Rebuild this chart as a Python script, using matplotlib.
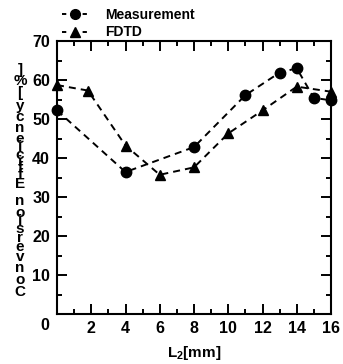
import matplotlib
matplotlib.use('Agg')
import matplotlib.pyplot as plt
from matplotlib.lines import Line2D
from matplotlib.ticker import MultipleLocator, FuncFormatter
from matplotlib.font_manager import FontProperties

plt.rcParams['font.family'] = ['Liberation Sans', 'DejaVu Sans']
plt.rcParams['font.weight'] = 'bold'
plt.rcParams['axes.labelweight'] = 'bold'
plt.rcParams['mathtext.fontset'] = 'custom'
plt.rcParams['mathtext.bf'] = 'Liberation Sans:bold'
plt.rcParams['mathtext.rm'] = 'Liberation Sans:bold'

# data
meas_x = [0, 4, 8, 11, 13, 14, 15, 16]
meas_y = [52.2, 36.4, 42.8, 56.1, 61.9, 63.0, 55.4, 54.8]
fdtd_x = [0, 1.8, 4, 6, 8, 10, 12, 14, 16]
fdtd_y = [58.7, 57.3, 43.2, 35.7, 37.6, 46.3, 52.2, 58.3, 57.0]
labels = ['Measurement', 'FDTD']
ylabel = 'Conversion Efficiency [%]'

W, H = 343, 364
fig = plt.figure(figsize=(W / 100, H / 100), dpi=100)
ax = fig.add_axes([57 / W, 50 / H, 274 / W, 273 / H])

ax.plot(meas_x, meas_y, color='k', ls='--', dashes=(3.6, 2.6), lw=1.4,
        marker='o', ms=7.5, clip_on=False)
ax.plot(fdtd_x, fdtd_y, color='k', ls='--', dashes=(3.6, 2.6), lw=1.4,
        marker='^', ms=7.5, clip_on=False)

ax.set_xlim(0, 16)
ax.set_ylim(0, 70)
ax.xaxis.set_major_locator(MultipleLocator(2))
ax.xaxis.set_minor_locator(MultipleLocator(1))
ax.yaxis.set_major_locator(MultipleLocator(10))
ax.yaxis.set_minor_locator(MultipleLocator(5))
nozero = FuncFormatter(lambda v, p: '' if v == 0 else '%d' % v)
ax.xaxis.set_major_formatter(nozero)
ax.yaxis.set_major_formatter(nozero)
ax.tick_params(which='both', direction='in', top=True, right=True, width=1.4,
               labelsize=11.5, pad=5)
ax.tick_params(which='major', length=7)
ax.tick_params(which='minor', length=3.5)
for s in ax.spines.values():
    s.set_linewidth(1.5)

# shared corner zero
fig.text(45 / W, 1 - 326 / H, '0', ha='center', va='center', fontsize=11.5)

ax.set_xlabel(r'L$_\mathbf{2}$[mm]', fontsize=11, fontweight='bold', labelpad=6)

# legend handles "-o-": dash, marker, dash
handles = [Line2D([], [], color='k', lw=1.4, ls=(0, (2.2, 8.4)), marker=m, ms=7)
           for m in ['o', '^']]
fig.legend(handles, labels, loc='upper left', bbox_to_anchor=(62 / W, 1 - 8 / H),
           bbox_transform=fig.transFigure, frameon=False, fontsize=10,
           handlelength=1.8, handletextpad=1.3, labelspacing=0.25,
           borderpad=0, borderaxespad=0)

# y label: characters stacked upright, bottom to top
fs = 11
renderer = fig.canvas.get_renderer()
prop = FontProperties(family=['Liberation Sans'], weight='bold', size=fs)
widths = []
for ch in ylabel:
    if ch == ' ':
        widths.append(0.28 * fs * 100 / 72)
    else:
        w, h, d = renderer.get_text_width_height_descent(ch, prop, ismath=False)
        widths.append(w)
centers = []
acc = 0
for w in widths:
    centers.append(acc + w / 2)
    acc += w
y0, y1 = 72, 294
scale = (y1 - y0) / (centers[-1] - centers[0])
for ch, c in zip(ylabel, centers):
    if ch == ' ':
        continue
    fig.text(20 / W, (y0 + (c - centers[0]) * scale) / H, ch,
             ha='center', va='center', fontsize=fs)

fig.savefig('out.png', dpi=100)
